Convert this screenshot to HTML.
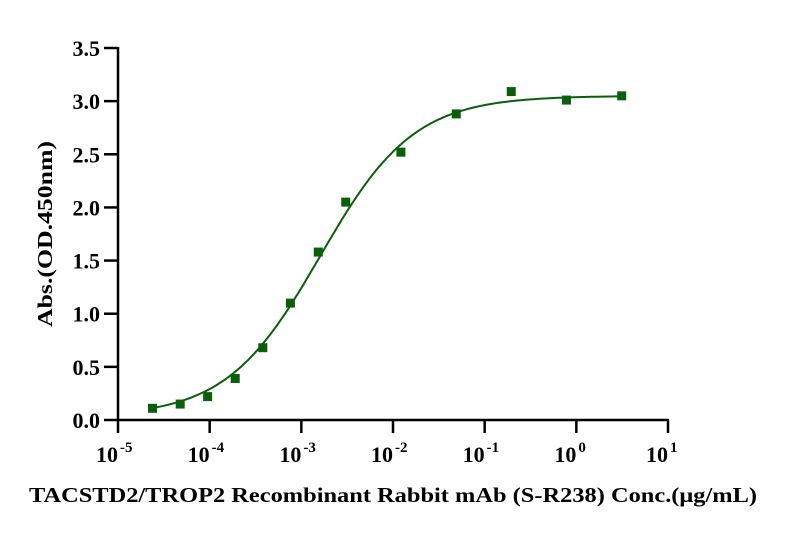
<!DOCTYPE html>
<html><head><meta charset="utf-8"><style>
body{margin:0;background:#fff;}
svg{display:block;font-family:"Liberation Serif",serif;font-weight:bold;}
</style></head><body>
<svg id="chart" width="786" height="537" viewBox="0 0 786 537">
<g id="axes"></g>
<g id="marks"></g>
<text transform="translate(52,234) rotate(-90)" text-anchor="middle" font-size="21" textLength="186" lengthAdjust="spacingAndGlyphs">Abs.(OD.450nm)</text>
<text x="393" y="502" text-anchor="middle" font-size="21" textLength="728" lengthAdjust="spacingAndGlyphs">TACSTD2/TROP2 Recombinant Rabbit mAb (S-R238) Conc.(μg/mL)</text>
</svg>
<script>
const concentrations=[0.0000238,0.0000477,0.000095,0.00019,0.00038,0.00076,0.00153,0.00305,0.0122,0.049,0.195,0.78,3.125];
const absorbance=[0.11,0.15,0.22,0.39,0.68,1.10,1.58,2.05,2.52,2.88,3.09,3.01,3.05];
const yTicks=[0,0.5,1.0,1.5,2.0,2.5,3.0,3.5];
const xTickExps=[-5,-4,-3,-2,-1,0,1];
const fitParams=[0.03,3.05,0.0016,0.85]; // bottom, top, ec50, hill
const ns="http://www.w3.org/2000/svg";
const X0=118,X1=668,Y0=420,Y1=48;
const xs=v=>X0+(Math.log10(v)+5)/6*(X1-X0);
const ys=v=>Y0-v/3.5*(Y0-Y1);
function mk(tag,attrs,parent){const e=document.createElementNS(ns,tag);for(const k in attrs)e.setAttribute(k,attrs[k]);parent.appendChild(e);return e;}
const axes=document.getElementById('axes'),marks=document.getElementById('marks');
let e=mk('line',{x1:X0,y1:Y1-1,x2:X0,y2:Y0+1,stroke:'#000','stroke-width':2.5},axes);


e=mk('line',{x1:X0-1,y1:Y0,x2:X1+1,y2:Y0,stroke:'#000','stroke-width':2.5},axes);


yTicks.forEach(t=>{
 const y=ys(t);
 const l=mk('line',{x1:X0-14,y1:y,x2:X0,y2:y,stroke:'#000','stroke-width':2.5},axes);
 
 
 const tx=mk('text',{x:X0-18,y:y+8,'text-anchor':'end','font-size':22},axes);
 tx.textContent=t.toFixed(1);
 
 
});
xTickExps.forEach(p=>{
 const x=xs(Math.pow(10,p));
 const l=mk('line',{x1:x,y1:Y0,x2:x,y2:Y0+13,stroke:'#000','stroke-width':2.5},axes);
 
 
 const tx=mk('text',{x:x,y:Y0+42,'text-anchor':'end','font-size':22},axes);
 tx.textContent='10';
 
 
 const sp=mk('text',{x:x+2,y:Y0+32,'text-anchor':'start','font-size':15},axes);
 sp.textContent=String(p);
 
 
});
const [b,t,ec,h]=fitParams;
const f=c=>b+(t-b)/(1+Math.pow(ec/c,h));
let d='';
const lo=Math.log10(concentrations[0]),hi=Math.log10(concentrations[concentrations.length-1]);
for(let i=0;i<=200;i++){const c=Math.pow(10,lo+(hi-lo)*i/200);d+=(i?'L':'M')+xs(c).toFixed(1)+','+ys(f(c)).toFixed(1);}
e=mk('path',{d:d,fill:'none',stroke:'#0b5e0b','stroke-width':2},marks);


concentrations.forEach((c,i)=>{
 const r=mk('rect',{x:xs(c)-4.5,y:ys(absorbance[i])-4.5,width:9,height:9,fill:'#0b5e0b'},marks);
 
 
});
</script>
</body></html>
